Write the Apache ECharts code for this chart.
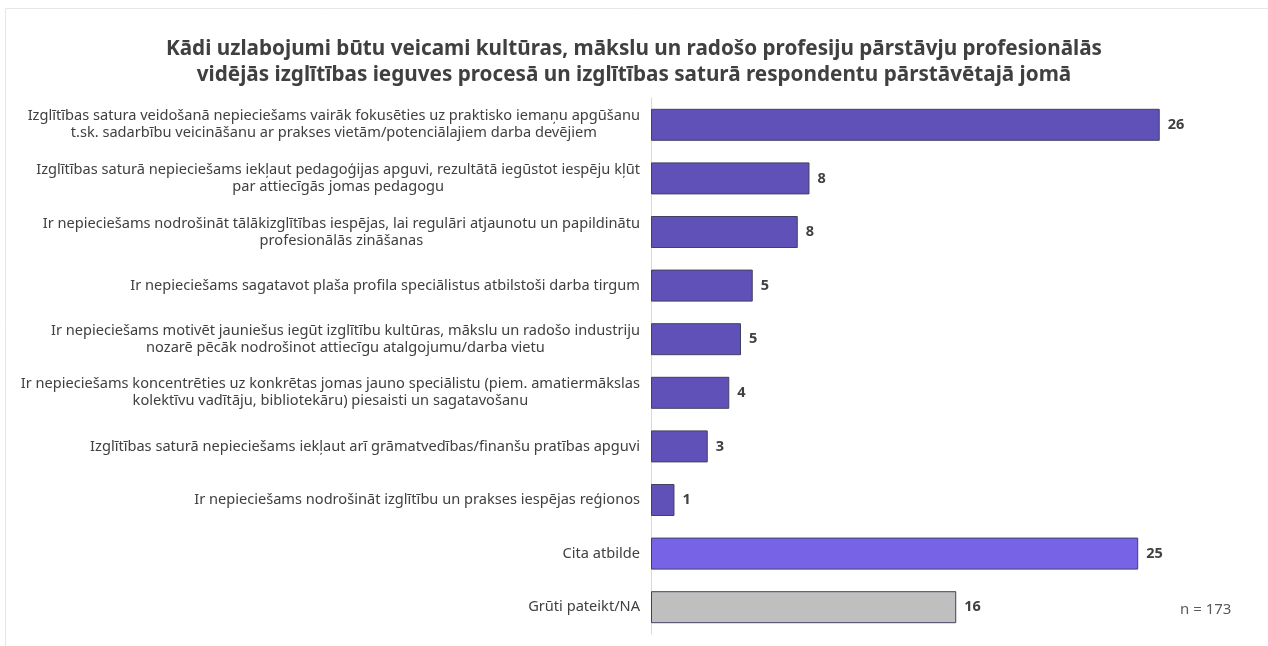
<!DOCTYPE html>
<html>
<head>
<meta charset="utf-8">
<script src="https://cdn.jsdelivr.net/npm/echarts@6/dist/echarts.min.js"></script>
<style>
html,body{margin:0;padding:0;background:#fff;}
#chart{width:1268px;height:646px;}
</style>
</head>
<body>
<div id="chart"></div>
<script>
const categories = [
  "Izglītības satura veidošanā nepieciešams vairāk fokusēties uz praktisko iemaņu apgūšanu\nt.sk. sadarbību veicināšanu ar prakses vietām/potenciālajiem darba devējiem",
  "Izglītības saturā nepieciešams iekļaut pedagoģijas apguvi, rezultātā iegūstot iespēju kļūt\npar attiecīgās jomas pedagogu",
  "Ir nepieciešams nodrošināt tālākizglītības iespējas, lai regulāri atjaunotu un papildinātu\nprofesionālās zināšanas",
  "Ir nepieciešams sagatavot plaša profila speciālistus atbilstoši darba tirgum",
  "Ir nepieciešams motivēt jauniešus iegūt izglītību kultūras, mākslu un radošo industriju\nnozarē pēcāk nodrošinot attiecīgu atalgojumu/darba vietu",
  "Ir nepieciešams koncentrēties uz konkrētas jomas jauno speciālistu (piem. amatiermākslas\nkolektīvu vadītāju, bibliotekāru) piesaisti un sagatavošanu",
  "Izglītības saturā nepieciešams iekļaut arī grāmatvedības/finanšu pratības apguvi",
  "Ir nepieciešams nodrošināt izglītību un prakses iespējas reģionos",
  "Cita atbilde",
  "Grūti pateikt/NA"
];
const values = [26.0, 8.1, 7.5, 5.2, 4.6, 4.0, 2.9, 1.2, 24.9, 15.6];
const barColors = ["#6051B8","#6051B8","#6051B8","#6051B8","#6051B8","#6051B8","#6051B8","#6051B8","#7763E6","#BFBFBF"];
const titleText = "Kādi uzlabojumi būtu veicami kultūras, mākslu un radošo profesiju pārstāvju profesionālās\nvidējās izglītības ieguves procesā un izglītības saturā respondentu pārstāvētajā jomā";
const noteText = "n = 173";

const chart = echarts.init(document.getElementById('chart'));
chart.setOption({
  backgroundColor: '#ffffff',
  animation: false,
  title: {
    text: titleText,
    left: 'center',
    top: 31,
    textStyle: {
      fontFamily: 'Noto Sans',
      fontSize: 20.7,
      fontWeight: 'bold',
      color: '#404040',
      lineHeight: 26
    }
  },
  grid: {
    left: 651,
    right: 30,
    top: 98,
    bottom: 12,
    containLabel: false
  },
  xAxis: {
    type: 'value',
    min: 0,
    max: 30,
    show: false
  },
  yAxis: {
    type: 'category',
    inverse: true,
    data: categories,
    axisLine: { show: true, lineStyle: { color: '#d9d9d9', width: 1 } },
    axisTick: { show: false },
    axisLabel: {
      margin: 11,
      formatter: function (v) {
        return v.split('\n').map(function (l) { return '{c|' + l + '}'; }).join('\n');
      },
      rich: {
        c: {
          align: 'center',
          fontFamily: 'Noto Sans',
          fontSize: 14.6,
          color: '#404040',
          lineHeight: 17
        }
      }
    }
  },
  series: [{
    type: 'bar',
    barWidth: 32,
    data: values.map(function (v, i) {
      return { value: v, itemStyle: { color: barColors[i] } };
    }),
    itemStyle: {
      borderColor: '#404060',
      borderWidth: 1
    },
    label: {
      show: true,
      position: 'right',
      distance: 8,
      formatter: function (p) { return Math.round(p.value); },
      fontFamily: 'Noto Sans',
      fontSize: 14.5,
      fontWeight: 'bold',
      color: '#404040'
    }
  }],
  graphic: [
    {
      type: 'rect',
      shape: { x: 5.5, y: 8.5, width: 1300, height: 700 },
      style: { fill: 'none', stroke: '#e6e6e6', lineWidth: 1 },
      silent: true
    },
    {
      type: 'text',
      left: 1180,
      top: 602,
      style: {
        text: noteText,
        fontFamily: 'Noto Sans',
        fontSize: 15,
        fill: '#595959'
      }
    }
  ]
});
</script>
</body>
</html>
